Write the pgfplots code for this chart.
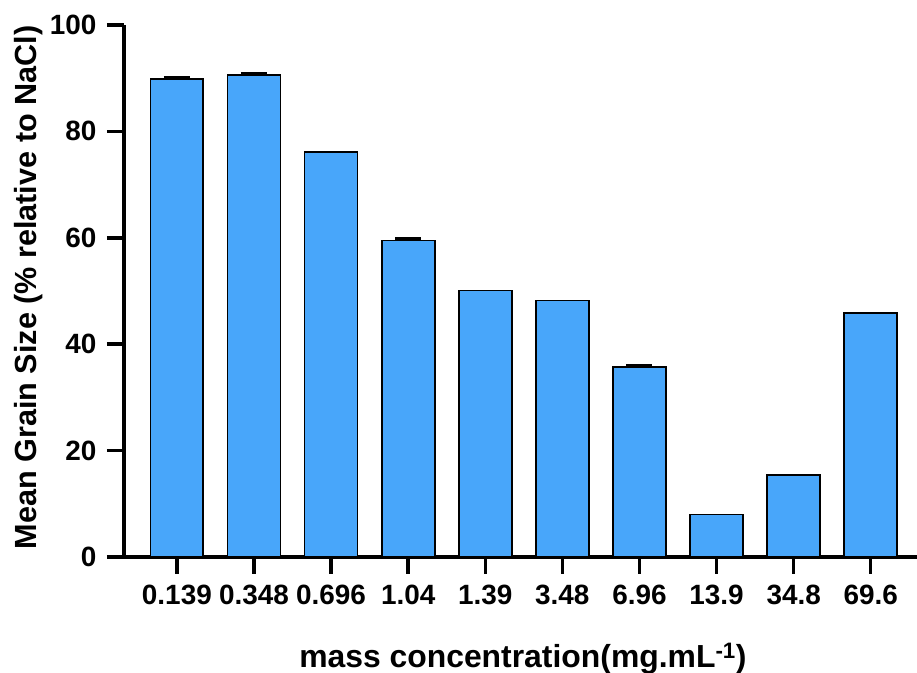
\documentclass[border=0pt]{standalone}
\usepackage{pgfplots}
\pgfplotsset{compat=1.18}
\usepackage{fontspec}
\setmainfont{Liberation Sans}
\definecolor{barblue}{RGB}{72,166,250}
\begin{document}
\begin{tikzpicture}
\begin{axis}[
  scale only axis, width=793bp, height=532bp,
  xmin=-0.686, xmax=9.6, ymin=0, ymax=100,
  axis x line*=bottom, axis y line*=left,
  axis line style={line width=3.8bp, -},
  xtick={0,...,9},
  xticklabels={0.139,0.348,0.696,1.04,1.39,3.48,6.96,13.9,34.8,69.6},
  ytick={0,20,...,100},
  tick style={line width=3.5bp, black},
  tick align=outside, major tick length=17bp,
  /pgf/number format/assume math mode=true,
  tick label style={font=\fontsize{28}{32}\selectfont\bfseries},
  xticklabel style={yshift=-7.5bp},
  yticklabel style={xshift=-7bp},
  xlabel={mass concentration(mg.mL\textsuperscript{-1})},
  ylabel={Mean Grain Size (\% relative to NaCl)},
  xlabel style={font=\fontsize{32}{36}\selectfont\bfseries,
    at={(axis description cs:0.503,-0.2068)}, anchor=base},
  ylabel style={font=\fontsize{30.7}{35}\selectfont\bfseries,
    at={(axis description cs:-0.1204,0.5066)}, anchor=center},
]
\addplot[ybar, bar width=0.687, bar shift=0pt, fill=barblue, draw=black, line width=1.8bp]
  table[x=x, y=y] {
x y
0 89.9
1 90.6
2 76.1
3 59.5
4 50.1
5 48.2
6 35.7
7 8.0
8 15.4
9 45.8
};
\addplot[draw=none, mark=none, forget plot,
  error bars/.cd, y dir=plus, y explicit,
  error bar style={line width=2.8bp},
  error mark options={rotate=90, mark size=13bp, line width=2.8bp}]
  table[x=x, y=y, y error=e] {
x y e
0 89.9 0.3
1 90.6 0.3
3 59.5 0.3
6 35.7 0.3
};
\end{axis}
\pgfresetboundingbox
\path ([shift={(-124bp,-116bp)}]current axis.south west) rectangle ([shift={(0bp,25bp)}]current axis.north east);
\end{tikzpicture}
\end{document}
